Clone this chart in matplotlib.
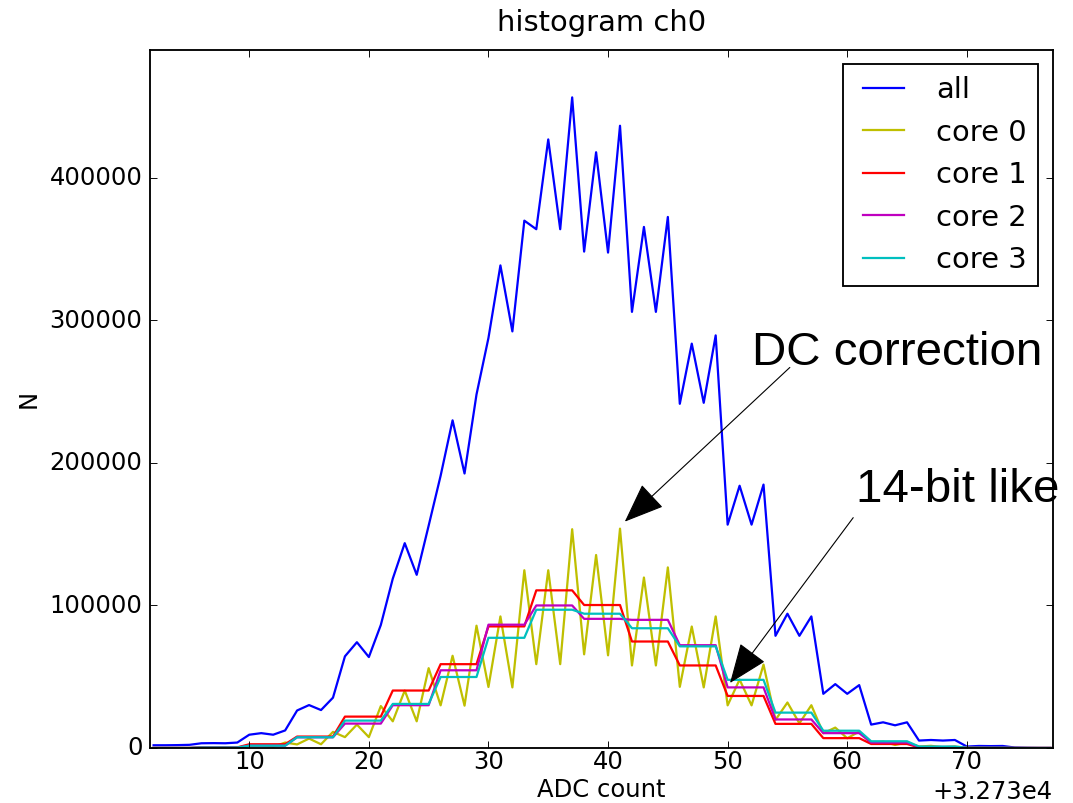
import numpy as np
import matplotlib
matplotlib.use("Agg")
import matplotlib.pyplot as plt

# ADC codes 32732 .. 32807
adc = np.arange(32732, 32808)

all_counts = [1900, 1900, 2000, 2200, 3300, 3400, 3300, 3800,
              9300, 10400, 9300, 12300, 26300, 30100, 26600, 35300,
              64300, 74200, 63800, 86300, 118800, 143700, 121500, 156000,
              191000, 229900, 192600, 248000, 287700, 338600, 292300, 370000,
              364000, 427000, 364000, 456500, 348300, 418000, 347600, 436600,
              306000, 365600, 306000, 372600, 241500, 283700, 242200, 289500,
              156700, 184000, 156700, 184800, 78700, 94200, 78700, 92300,
              38000, 44800, 38000, 44100, 16400, 18000, 15900, 18000,
              5200, 5600, 5200, 5600, 1000, 1400, 1300, 1400,
              300, 100, 0, 0]

core0 = [0, 0, 0, 0, 200, 200, 200, 300,
         1500, 1800, 800, 3800, 2500, 6600, 2600, 11300,
         7600, 16400, 7600, 29400, 18700, 40300, 18700, 56000,
         29900, 64700, 29700, 85800, 42800, 92300, 42500, 124700,
         58800, 124700, 58800, 153500, 65700, 135400, 65000, 153900,
         57900, 119600, 57900, 126700, 42900, 85200, 42500, 92300,
         29900, 48000, 29900, 58500, 19700, 31900, 17300, 30000,
         10300, 14300, 6800, 11500, 3300, 4500, 2100, 3800,
         1000, 1500, 500, 1000, 200, 200, 100, 100,
         0, 0, 0, 0]

core1 = [0, 0, 0, 0, 400, 400, 400, 400,
         2600, 2600, 2600, 2600, 8000, 8000, 8000, 8000,
         22000, 22000, 22000, 22000, 40300, 40300, 40300, 40300,
         58800, 58800, 58800, 58800, 85300, 85300, 85300, 85300,
         110600, 110600, 110600, 110600, 100300, 100300, 100300, 100300,
         74700, 74700, 74700, 74700, 57900, 57900, 57900, 57900,
         36500, 36500, 36500, 36500, 16900, 16900, 16900, 16900,
         6900, 6900, 6900, 6900, 2800, 2800, 2800, 2800,
         400, 400, 400, 400, 0, 0, 0, 0,
         0, 0, 0, 0]

core2 = [0, 0, 0, 0, 300, 300, 300, 300,
         1600, 1600, 1600, 1600, 7500, 7500, 7500, 7500,
         17100, 17100, 17100, 17100, 30000, 30000, 30000, 30000,
         54500, 54500, 54500, 54500, 86500, 86500, 86500, 86500,
         100000, 100000, 100000, 100000, 90600, 90600, 90600, 90600,
         89900, 89900, 89900, 89900, 72100, 72100, 72100, 72100,
         42500, 42500, 42500, 42500, 20000, 20000, 20000, 20000,
         10400, 10400, 10400, 10400, 3800, 3800, 3800, 3800,
         700, 700, 700, 700, 100, 100, 100, 100,
         0, 0, 0, 0]

core3 = [0, 0, 0, 0, 300, 300, 300, 300,
         1600, 1600, 1600, 1600, 7500, 7500, 7500, 7500,
         19200, 19200, 19200, 19200, 30900, 30900, 30900, 30900,
         49800, 49800, 49800, 49800, 77300, 77300, 77300, 77300,
         97000, 97000, 97000, 97000, 94200, 94200, 94200, 94200,
         84000, 84000, 84000, 84000, 71300, 71300, 71300, 71300,
         47800, 47800, 47800, 47800, 24800, 24800, 24800, 24800,
         12100, 12100, 12100, 12100, 4700, 4700, 4700, 4700,
         1000, 1000, 1000, 1000, 100, 100, 100, 100,
         0, 0, 0, 0]

plt.style.use("classic")
plt.rcParams["figure.facecolor"] = "white"
plt.rcParams["savefig.facecolor"] = "white"
plt.rcParams["font.size"] = 13
plt.rcParams["xtick.major.pad"] = 1
plt.rcParams["ytick.major.pad"] = 4

fig = plt.figure(figsize=(8.0, 5.99), dpi=134.125)
ax = fig.add_subplot(111)
fig.subplots_adjust(left=0.1398, right=0.9813, top=0.9377, bottom=0.0685)

ax.plot(adc, all_counts, 'b', lw=1.2, label='all')
ax.plot(adc, core0, 'y', lw=1.2, label='core 0')
ax.plot(adc, core1, 'r', lw=1.2, label='core 1')
ax.plot(adc, core2, 'm', lw=1.2, label='core 2')
ax.plot(adc, core3, 'c', lw=1.2, label='core 3')

ax.set_xlim(32731.7, 32807.2)
ax.set_ylim(0, 490000)
ax.ticklabel_format(axis='x', useOffset=32730)

ax.set_title('histogram ch0', pad=10)
ax.set_xlabel('ADC count', labelpad=2)
ax.set_ylabel('N')
ax.legend(loc='upper right')

# annotations
arrow = dict(arrowstyle='-|>,head_length=1.9,head_width=0.75', color='black',
             lw=0.6, shrinkA=0, shrinkB=0, mutation_scale=10)
ax.annotate('', xy=(32771.4, 158800), xytext=(32785.2, 267000), arrowprops=arrow)
ax.annotate('', xy=(32780.2, 45600), xytext=(32790.5, 161600), arrowprops=arrow)
ax.text(32782.0, 269100, 'DC correction', fontsize=25.5,
        family='Liberation Sans', va='baseline', ha='left')
ax.text(32790.7, 172900, '14-bit like', fontsize=25.5,
        family='Liberation Sans', va='baseline', ha='left')

fig.savefig('out.png', dpi=134.125)
